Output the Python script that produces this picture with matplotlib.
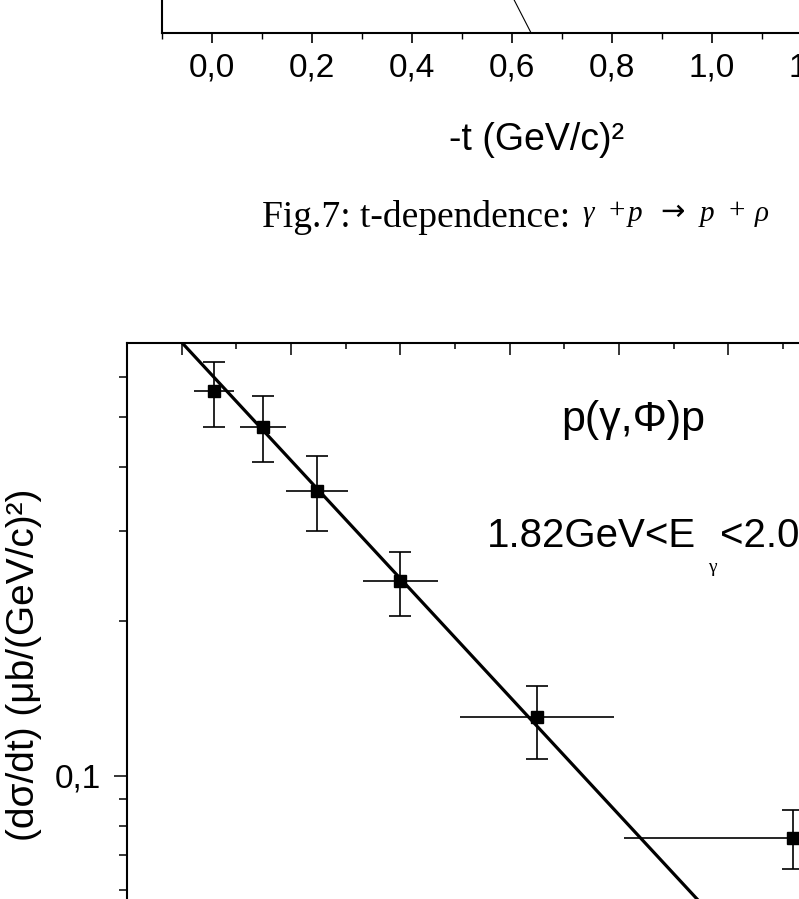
import numpy as np
import matplotlib
matplotlib.use("Agg")
import matplotlib.pyplot as plt
from matplotlib.ticker import MultipleLocator, FixedLocator, FuncFormatter, NullFormatter

plt.rcParams['font.family'] = ['Liberation Sans', 'DejaVu Sans']

# ---------------- data ----------------
# phi photoproduction, -t bins (GeV/c)^2
t_phi = [0.059, 0.149, 0.248, 0.400, 0.650, 1.119]
t_halfwidth = [0.037, 0.042, 0.057, 0.069, 0.140, 0.310]
dsdt_phi = [0.563, 0.479, 0.359, 0.240, 0.130, 0.0757]
dsdt_hi = [0.641, 0.551, 0.421, 0.273, 0.150, 0.0858]
dsdt_lo = [0.479, 0.409, 0.300, 0.205, 0.108, 0.0659]
# exponential fit  A*exp(-b*t)
A_phi, b_phi = 0.70, 2.65
# fit of the (mostly hidden) rho panel above
A_rho, b_rho = 1.65, 8.0

x_major = [0.0, 0.2, 0.4, 0.6, 0.8, 1.0, 1.2, 1.4]

W, H = 799, 899
fig = plt.figure(figsize=(W / 100, H / 100), dpi=100)


def rect(left, top, width, height):
    return [left / W, 1 - (top + height) / H, width / W, height / H]


def fx(x):
    return x / W


def fy(y):
    return 1 - y / H


comma = FuncFormatter(lambda v, p: ("%.1f" % v).replace(".", ","))
serif = ['Liberation Serif', 'DejaVu Serif', 'DejaVu Sans']

# ---------------- upper (rho) panel: only its bottom axis is visible ----------------
ax1 = fig.add_axes(rect(162, 33 - 560, 750, 560))
tt = np.linspace(-0.1, 1.4, 400)
ax1.plot(tt, A_rho * np.exp(-b_rho * tt), color='black', lw=0.8)
ax1.set_yscale('log')
ax1.set_ylim(0.01, 1.0)
ax1.set_xlim(-0.1, 1.4)
ax1.xaxis.set_major_locator(FixedLocator(x_major))
ax1.xaxis.set_minor_locator(MultipleLocator(0.1))
ax1.xaxis.set_major_formatter(comma)
ax1.tick_params(axis='x', which='major', direction='out', length=7, width=1.2,
                labelsize=24, pad=7)
ax1.tick_params(axis='x', which='minor', direction='out', length=4.3, width=1.0)
ax1.tick_params(axis='y', which='both', left=False, labelleft=False)
for s in ax1.spines.values():
    s.set_linewidth(1.5)
ax1.set_xlabel("-t (GeV/c)\u00b2", fontsize=27, labelpad=28)

# caption
fig.text(fx(262), fy(227), "Fig.7: t-dependence: ", fontsize=27,
         family=serif, va='baseline', ha='left')
formula = [("\u03b3", 582, 'italic', serif, 0), ("+", 609, 'normal', serif, 3),
           ("p", 628, 'italic', serif, 0), ("\u2192", 660, 'normal', ['DejaVu Sans'], 1),
           ("p", 700, 'italic', serif, 0), ("+", 729, 'normal', serif, 3),
           ("\u03c1", 755, 'italic', serif, 0)]
for sym, x, st, fam, lift in formula:
    fig.text(fx(x), fy(221 - lift), sym, fontsize=21, family=fam,
             style=st, va='baseline', ha='left')

# ---------------- lower (phi) panel ----------------
ax2 = fig.add_axes(rect(127, 343, 820, 946))
ax2.set_yscale('log')
ax2.set_xlim(-0.1, 1.4)
ax2.set_ylim(0.01, 0.698)

y = np.array(dsdt_phi)
yerr = [y - np.array(dsdt_lo), np.array(dsdt_hi) - y]
ax2.errorbar(t_phi, dsdt_phi, xerr=t_halfwidth, fmt='none', ecolor='black',
             elinewidth=1.2, capsize=0)
ax2.errorbar(t_phi, dsdt_phi, yerr=yerr, fmt='s', color='black', ms=8.5,
             ecolor='black', elinewidth=1.2, capsize=8, capthick=1.2)
ax2.plot(tt, A_phi * np.exp(-b_phi * tt), color='black', lw=2.3)

ax2.xaxis.set_major_locator(FixedLocator(x_major))
ax2.xaxis.set_minor_locator(MultipleLocator(0.1))
ax2.tick_params(axis='x', which='both', top=True, bottom=False,
                labelbottom=False, labeltop=False, direction='in')
ax2.tick_params(axis='x', which='major', length=8.5, width=1.1)
ax2.tick_params(axis='x', which='minor', length=4, width=1.1)

ax2.yaxis.set_major_locator(FixedLocator([0.1, 1.0]))
ax2.yaxis.set_minor_locator(FixedLocator([k * 0.01 for k in range(2, 10)] +
                                         [k * 0.1 for k in range(2, 10)]))
ax2.yaxis.set_major_formatter(comma)
ax2.yaxis.set_minor_formatter(NullFormatter())
ax2.tick_params(axis='y', which='major', direction='out', length=9.5, width=1.1,
                labelsize=24, pad=9)
ax2.tick_params(axis='y', which='minor', direction='out', length=5.5, width=1.1)
for s in ax2.spines.values():
    s.set_linewidth(1.5)

fig.text(fx(24), fy(665), "(d\u03c3/dt) (\u03bcb/(GeV/c)\u00b2)", fontsize=28,
         rotation=90, ha='center', va='center')

# annotations
fig.text(fx(633), fy(420), "p(\u03b3,\u03a6)p", fontsize=31, ha='center', va='center')
fig.text(fx(487), fy(547), "1.82GeV<E", fontsize=29, ha='left', va='baseline')
fig.text(fx(712), fy(568), "\u03b3", fontsize=14, family=serif, ha='center', va='center')
fig.text(fx(720), fy(547), "<2.0", fontsize=29, ha='left', va='baseline')

fig.savefig("out.png", dpi=100)
